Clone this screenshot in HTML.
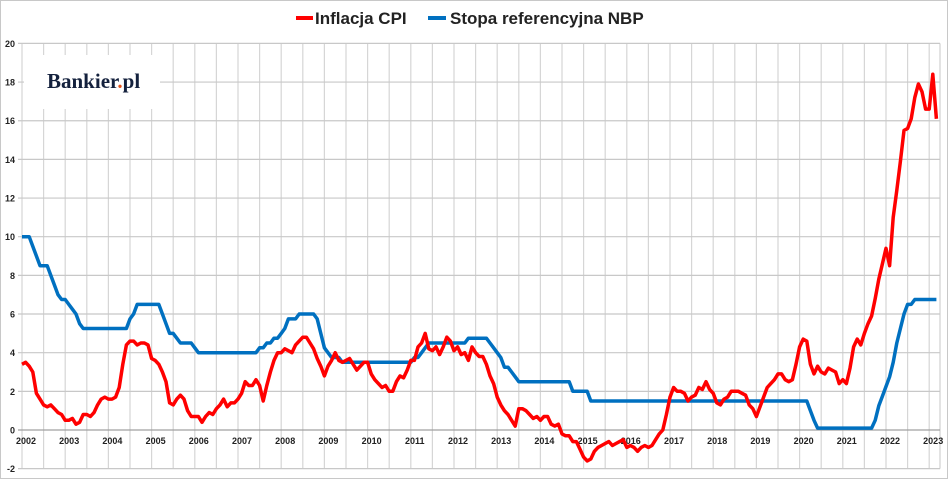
<!DOCTYPE html>
<html><head><meta charset="utf-8"><style>
body{margin:0;background:#fff;}
svg text{font-family:"Liberation Sans",sans-serif;}
</style></head><body>
<svg id="chart" width="948" height="479" xmlns="http://www.w3.org/2000/svg">
<rect x="0.5" y="0.5" width="947" height="478" fill="#fff" stroke="#c8c8c8"/>
<g id="grid"></g>
<g id="yticks"></g>
<g id="xticks"></g>
<g>
<rect x="24" y="55" width="136" height="54" fill="#fff"/>
<text x="47" y="88" style="font-family:'Liberation Serif',serif;font-weight:bold;font-size:21px" fill="#14213d">Bankier<tspan fill="#e8541b">.</tspan>pl</text>
</g>
<g id="series"></g>
<g>
<g>
<line x1="296" y1="18" x2="313" y2="18" stroke="#ff0000" stroke-width="4"/>
<text x="315" y="24" font-size="17" font-weight="bold" fill="#222">Inflacja CPI</text></g>
<g>
<line x1="428" y1="18" x2="446" y2="18" stroke="#0070c0" stroke-width="4"/>
<text x="450" y="24" font-size="17" font-weight="bold" fill="#222">Stopa referencyjna NBP</text></g>
</g>
</svg>
<script>
const yTicks=[-2,0,2,4,6,8,10,12,14,16,18,20];
const xYears=[2002,2003,2004,2005,2006,2007,2008,2009,2010,2011,2012,2013,2014,2015,2016,2017,2018,2019,2020,2021,2022,2023];
const startYear=2002;
const cpi=[3.4,3.5,3.3,3.0,1.9,1.6,1.3,1.2,1.3,1.1,0.9,0.8,
0.5,0.5,0.6,0.3,0.4,0.8,0.8,0.7,0.9,1.3,1.6,1.7,
1.6,1.6,1.7,2.2,3.4,4.4,4.6,4.6,4.4,4.5,4.5,4.4,
3.7,3.6,3.4,3.0,2.5,1.4,1.3,1.6,1.8,1.6,1.0,0.7,
0.7,0.7,0.4,0.7,0.9,0.8,1.1,1.3,1.6,1.2,1.4,1.4,
1.6,1.9,2.5,2.3,2.3,2.6,2.3,1.5,2.3,3.0,3.6,4.0,
4.0,4.2,4.1,4.0,4.4,4.6,4.8,4.8,4.5,4.2,3.7,3.3,
2.8,3.3,3.6,4.0,3.6,3.5,3.6,3.7,3.4,3.1,3.3,3.5,
3.5,2.9,2.6,2.4,2.2,2.3,2.0,2.0,2.5,2.8,2.7,3.1,
3.6,3.6,4.3,4.5,5.0,4.2,4.1,4.3,3.9,4.3,4.8,4.6,
4.1,4.3,3.9,4.0,3.6,4.3,4.0,3.8,3.8,3.4,2.8,2.4,
1.7,1.3,1.0,0.8,0.5,0.2,1.1,1.1,1.0,0.8,0.6,0.7,
0.5,0.7,0.7,0.3,0.2,0.3,-0.2,-0.3,-0.3,-0.6,-0.6,-1.0,
-1.4,-1.6,-1.5,-1.1,-0.9,-0.8,-0.7,-0.6,-0.8,-0.7,-0.6,-0.5,
-0.9,-0.8,-0.9,-1.1,-0.9,-0.8,-0.9,-0.8,-0.5,-0.2,0.0,0.8,
1.7,2.2,2.0,2.0,1.9,1.5,1.7,1.8,2.2,2.1,2.5,2.1,
1.9,1.4,1.3,1.6,1.7,2.0,2.0,2.0,1.9,1.8,1.3,1.1,
0.7,1.2,1.7,2.2,2.4,2.6,2.9,2.9,2.6,2.5,2.6,3.4,
4.3,4.7,4.6,3.4,2.9,3.3,3.0,2.9,3.2,3.1,3.0,2.4,
2.6,2.4,3.2,4.3,4.7,4.4,5.0,5.5,5.9,6.8,7.8,8.6,
9.4,8.5,11.0,12.4,13.9,15.5,15.6,16.1,17.2,17.9,17.5,16.6,
16.6,18.4,16.1];
const rate=[10,10,10,9.5,9,8.5,8.5,8.5,8,7.5,7,6.75,
6.75,6.5,6.25,6,5.5,5.25,5.25,5.25,5.25,5.25,5.25,5.25,
5.25,5.25,5.25,5.25,5.25,5.25,5.75,6.0,6.5,6.5,6.5,6.5,
6.5,6.5,6.5,6.0,5.5,5.0,5.0,4.75,4.5,4.5,4.5,4.5,
4.25,4,4,4,4,4,4,4,4,4,4,4,
4,4,4,4,4,4,4.25,4.25,4.5,4.5,4.75,4.75,
5.0,5.25,5.75,5.75,5.75,6.0,6.0,6.0,6.0,6.0,5.75,5.0,
4.25,4.0,3.75,3.75,3.75,3.5,3.5,3.5,3.5,3.5,3.5,3.5,
3.5,3.5,3.5,3.5,3.5,3.5,3.5,3.5,3.5,3.5,3.5,3.5,
3.5,3.75,3.75,4.0,4.25,4.5,4.5,4.5,4.5,4.5,4.5,4.5,
4.5,4.5,4.5,4.5,4.75,4.75,4.75,4.75,4.75,4.75,4.5,4.25,
4.0,3.75,3.25,3.25,3.0,2.75,2.5,2.5,2.5,2.5,2.5,2.5,
2.5,2.5,2.5,2.5,2.5,2.5,2.5,2.5,2.5,2.0,2.0,2.0,
2.0,2.0,1.5,1.5,1.5,1.5,1.5,1.5,1.5,1.5,1.5,1.5,
1.5,1.5,1.5,1.5,1.5,1.5,1.5,1.5,1.5,1.5,1.5,1.5,
1.5,1.5,1.5,1.5,1.5,1.5,1.5,1.5,1.5,1.5,1.5,1.5,
1.5,1.5,1.5,1.5,1.5,1.5,1.5,1.5,1.5,1.5,1.5,1.5,
1.5,1.5,1.5,1.5,1.5,1.5,1.5,1.5,1.5,1.5,1.5,1.5,
1.5,1.5,1.5,1.0,0.5,0.1,0.1,0.1,0.1,0.1,0.1,0.1,
0.1,0.1,0.1,0.1,0.1,0.1,0.1,0.1,0.1,0.5,1.25,1.75,
2.25,2.75,3.5,4.5,5.25,6.0,6.5,6.5,6.75,6.75,6.75,6.75,
6.75,6.75,6.75];

const NS="http://www.w3.org/2000/svg";
const X0=22,PX_YEAR=43.2,Y0=430,PX_UNIT=19.33,XR=940;
const xs=t=>X0+(t-startYear)*PX_YEAR;
const ys=v=>Y0-v*PX_UNIT;
function mk(tag,attrs,parent){const e=document.createElementNS(NS,tag);for(const k in attrs)e.setAttribute(k,attrs[k]);parent.appendChild(e);return e;}
const grid=document.getElementById('grid');
for(let t=startYear;xs(t)<=XR+0.5;t+=0.5){
  const l=mk('line',{x1:xs(t),x2:xs(t),y1:ys(20),y2:ys(-2),stroke:'#d6d6d6','stroke-width':1.2},grid);
  
  
}
mk('line',{x1:XR,x2:XR,y1:ys(20),y2:ys(-2),stroke:'#d0d0d0','stroke-width':1.2},grid);
const yt=document.getElementById('yticks');
yTicks.forEach(v=>{
  const l=mk('line',{x1:X0-4,x2:XR,y1:ys(v),y2:ys(v),stroke:v===0?'#a0a0a0':'#c8c8c8','stroke-width':1.2},grid);
  
  
  const t=mk('text',{x:15,y:ys(v)+3.5,'font-size':9,'font-weight':'bold','text-anchor':'end',fill:'#222'},yt);
  t.textContent=v;
  
  
});
const xt=document.getElementById('xticks');
xYears.forEach(y=>{
  const t=mk('text',{x:xs(y)+4,y:444,'font-size':9,'font-weight':'bold','text-anchor':'middle',fill:'#222'},xt);
  t.textContent=y;
  
  
});
const ser=document.getElementById('series');
function line(arr,color,name){
  const pts=arr.map((v,i)=>xs(startYear+i/12).toFixed(1)+','+ys(v).toFixed(1)).join(' ');
  const p=mk('polyline',{points:pts,fill:'none',stroke:color,'stroke-width':3.5,'stroke-linejoin':'round'},ser);
  
  
}
line(rate,'#0070c0','nbp-rate-line');
line(cpi,'#ff0000','cpi-line');
</script>
</body></html>
